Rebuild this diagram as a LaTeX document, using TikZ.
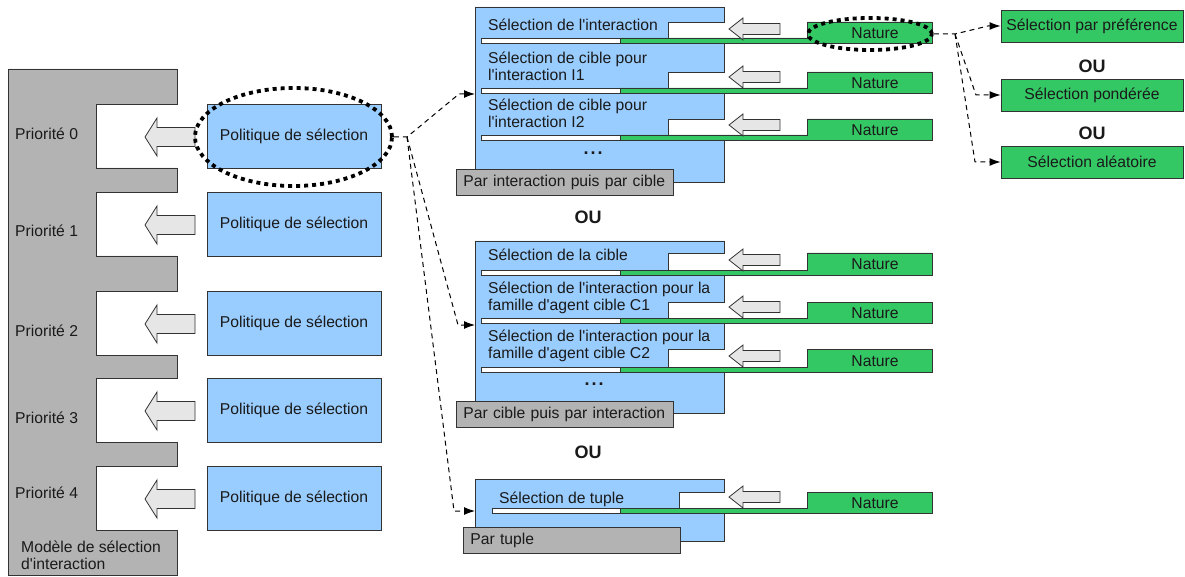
\documentclass[tikz,border=0pt]{standalone}
\usepackage{fontspec}
\setmainfont{Liberation Sans}[Ligatures=TeXOff]
\usetikzlibrary{shapes.geometric,arrows.meta}
\definecolor{combgray}{HTML}{B3B3B3}
\definecolor{polblue}{HTML}{99CCFF}
\definecolor{natgreen}{HTML}{34C865}
\definecolor{arrfill}{HTML}{E6E6E6}
\definecolor{edge}{HTML}{333333}
\definecolor{txt}{HTML}{1A1A1A}
\begin{document}
\begin{tikzpicture}[x=1pt,y=-1pt,line join=miter,
  every node/.style={font=\fontsize{15.7}{17}\selectfont, text=txt, inner sep=0pt},
  outl/.style={draw=edge, line width=0.9pt},
  polbox/.style={outl, fill=polblue, rectangle, minimum width=174, minimum height=64},
  lblbox/.style={outl, fill=combgray, rectangle, anchor=north west, inner xsep=7pt, text width=203, minimum height=26, align=left},
  selbox/.style={outl, fill=natgreen, rectangle, minimum width=182, minimum height=32},
  blockarr/.style={draw=edge, line width=0.8pt, fill=arrfill},
  oulbl/.style={font=\fontsize{18}{20}\selectfont\bfseries},
  dotell/.style={draw=black, line width=3.8pt, dash pattern=on 4pt off 4pt, ellipse, fill=none},
  conn/.style={draw=black, line width=1pt, dash pattern=on 5pt off 4pt, -{Latex[length=11pt,width=8pt]}},
  ptxt/.style={anchor=base west, align=left}
]
\useasboundingbox (0,0) rectangle (1185,577);

% ---------- left comb ----------
\draw[outl, fill=combgray] (8,69) -- (177,69) -- (177,104) -- (96,104) -- (96,168) -- (177,168)
  -- (177,192) -- (96,192) -- (96,256) -- (177,256)
  -- (177,291) -- (96,291) -- (96,355) -- (177,355)
  -- (177,378) -- (96,378) -- (96,442) -- (177,442)
  -- (177,466) -- (96,466) -- (96,530) -- (177,530)
  -- (177,575) -- (8,575) -- cycle;
\foreach \i/\b in {0/140,1/237,2/336,3/423,4/498}
  \node[anchor=base west] (prio\i) at (15,\b) {Priorité \i};
\node[anchor=base west] (modA) at (21,552) {Modèle de sélection};
\node[anchor=base west] (modB) at (21,569) {d'interaction};

% ---------- policy boxes ----------
\foreach \i/\c in {0/136,1/224,2/323,3/410,4/498}{
  \node[polbox] (pol\i) at (294,\c) {Politique de sélection};
  \draw[blockarr] (145,\c+1) -- (157,\c-18) -- (157,\c-8.5) -- (195,\c-8.5) -- (195,\c+10.5)
     -- (157,\c+10.5) -- (157,\c+20) -- cycle;
}

% ---------- panels ----------
\draw[outl, fill=polblue] (475,7) -- (724,7) -- (724,22) -- (668,22) -- (668,43) -- (724,43)
  -- (724,72) -- (668,72) -- (668,93) -- (724,93)
  -- (724,119) -- (668,119) -- (668,140) -- (724,140)
  -- (724,182) -- (475,182) -- cycle;
\draw[outl, fill=polblue] (475,241) -- (724,241) -- (724,253) -- (668,253) -- (668,275) -- (724,275)
  -- (724,302) -- (668,302) -- (668,323) -- (724,323)
  -- (724,349) -- (668,349) -- (668,372) -- (724,372)
  -- (724,413) -- (475,413) -- cycle;
\draw[outl, fill=polblue] (475,479) -- (724,479) -- (724,492) -- (679,492) -- (679,513) -- (724,513)
  -- (724,541) -- (475,541) -- cycle;

\foreach \n/\nt/\st/\sb/\ws/\cy in {A1/22/38/43/481/29, A2/72/88/93/481/77, A3/119/135/140/481/125,
    B1/253/270/275/481/260, B2/302/318/323/481/307, B3/349/367/372/481/356, C1/492/508/513/492/497}{
  \draw[outl, fill=white] (\ws,\st) rectangle (620,\sb);
  \draw[outl, fill=natgreen] (620,\st) -- (807,\st) -- (807,\nt) -- (932,\nt) -- (932,\sb) -- (620,\sb) -- cycle;
  \node (nat\n) at (875,{(\nt+\sb)/2+0.5}) {Nature};
  \draw[blockarr] (729,\cy) -- (743,\cy-11) -- (743,\cy-5.5) -- (780,\cy-5.5) -- (780,\cy+5.5)
     -- (743,\cy+5.5) -- (743,\cy+11) -- cycle;
}

% panel texts (base = baseline of the last line)
\node[ptxt] (tA1) at (488,31) {Sélection de l'interaction};
\node[ptxt] (tA2) at (488,81) {Sélection de cible pour\\l'interaction I1};
\node[ptxt] (tA3) at (488,128) {Sélection de cible pour\\l'interaction I2};
\node[font=\fontsize{18}{20}\selectfont\bfseries] (dotsA) at (593,153) {.\kern2pt.\kern2pt.};
\node[lblbox] (lblA) at (456,169) {Par interaction puis par cible};

\node[ptxt] (tB1) at (488,261) {Sélection de la cible};
\node[ptxt] (tB2) at (488,310) {Sélection de l'interaction pour la\\famille d'agent cible C1};
\node[ptxt] (tB3) at (488,358) {Sélection de l'interaction pour la\\famille d'agent cible C2};
\node[font=\fontsize{18}{20}\selectfont\bfseries] (dotsB) at (594,384) {.\kern2pt.\kern2pt.};
\node[lblbox] (lblB) at (456,401) {Par cible puis par interaction};

\node[ptxt] (tC1) at (499,503) {Sélection de tuple};
\node[lblbox] (lblC) at (463,527) {Par tuple};

% OU labels
\node[oulbl] (ou1) at (588,217) {OU};
\node[oulbl] (ou2) at (588,452) {OU};
\node[oulbl] (ou3) at (1092,66) {OU};
\node[oulbl] (ou4) at (1092,133) {OU};

% right selection boxes
\node[selbox] (selPref) at (1092,26) {Sélection par préférence};
\node[selbox] (selPond) at (1092,95) {Sélection pondérée};
\node[selbox] (selAlea) at (1092,162) {Sélection aléatoire};

% dotted ellipses
\node[dotell, minimum width=197, minimum height=98] (ellP) at (293.5,137) {};
\node[dotell, minimum width=124, minimum height=32] (ellN) at (870,34) {};

% connectors
\coordinate (pA) at (475,94);
\coordinate (pB) at (475,325);
\coordinate (pC) at (475,511);
\coordinate (fork) at (407,137);
\draw[conn] (ellP.east) -- (fork) -- (459,94) -- (pA);
\draw[conn] (fork) -- (458,325) -- (pB);
\draw[conn] (fork) -- (454,511) -- (pC);

\coordinate (nfork) at (955,34);
\draw[conn] (ellN.east) -- (nfork) -- (988,26) -- (selPref.west);
\draw[conn] (nfork) -- (976,95) -- (selPond.west);
\draw[conn] (nfork) -- (975,162) -- (selAlea.west);
\end{tikzpicture}
\end{document}
